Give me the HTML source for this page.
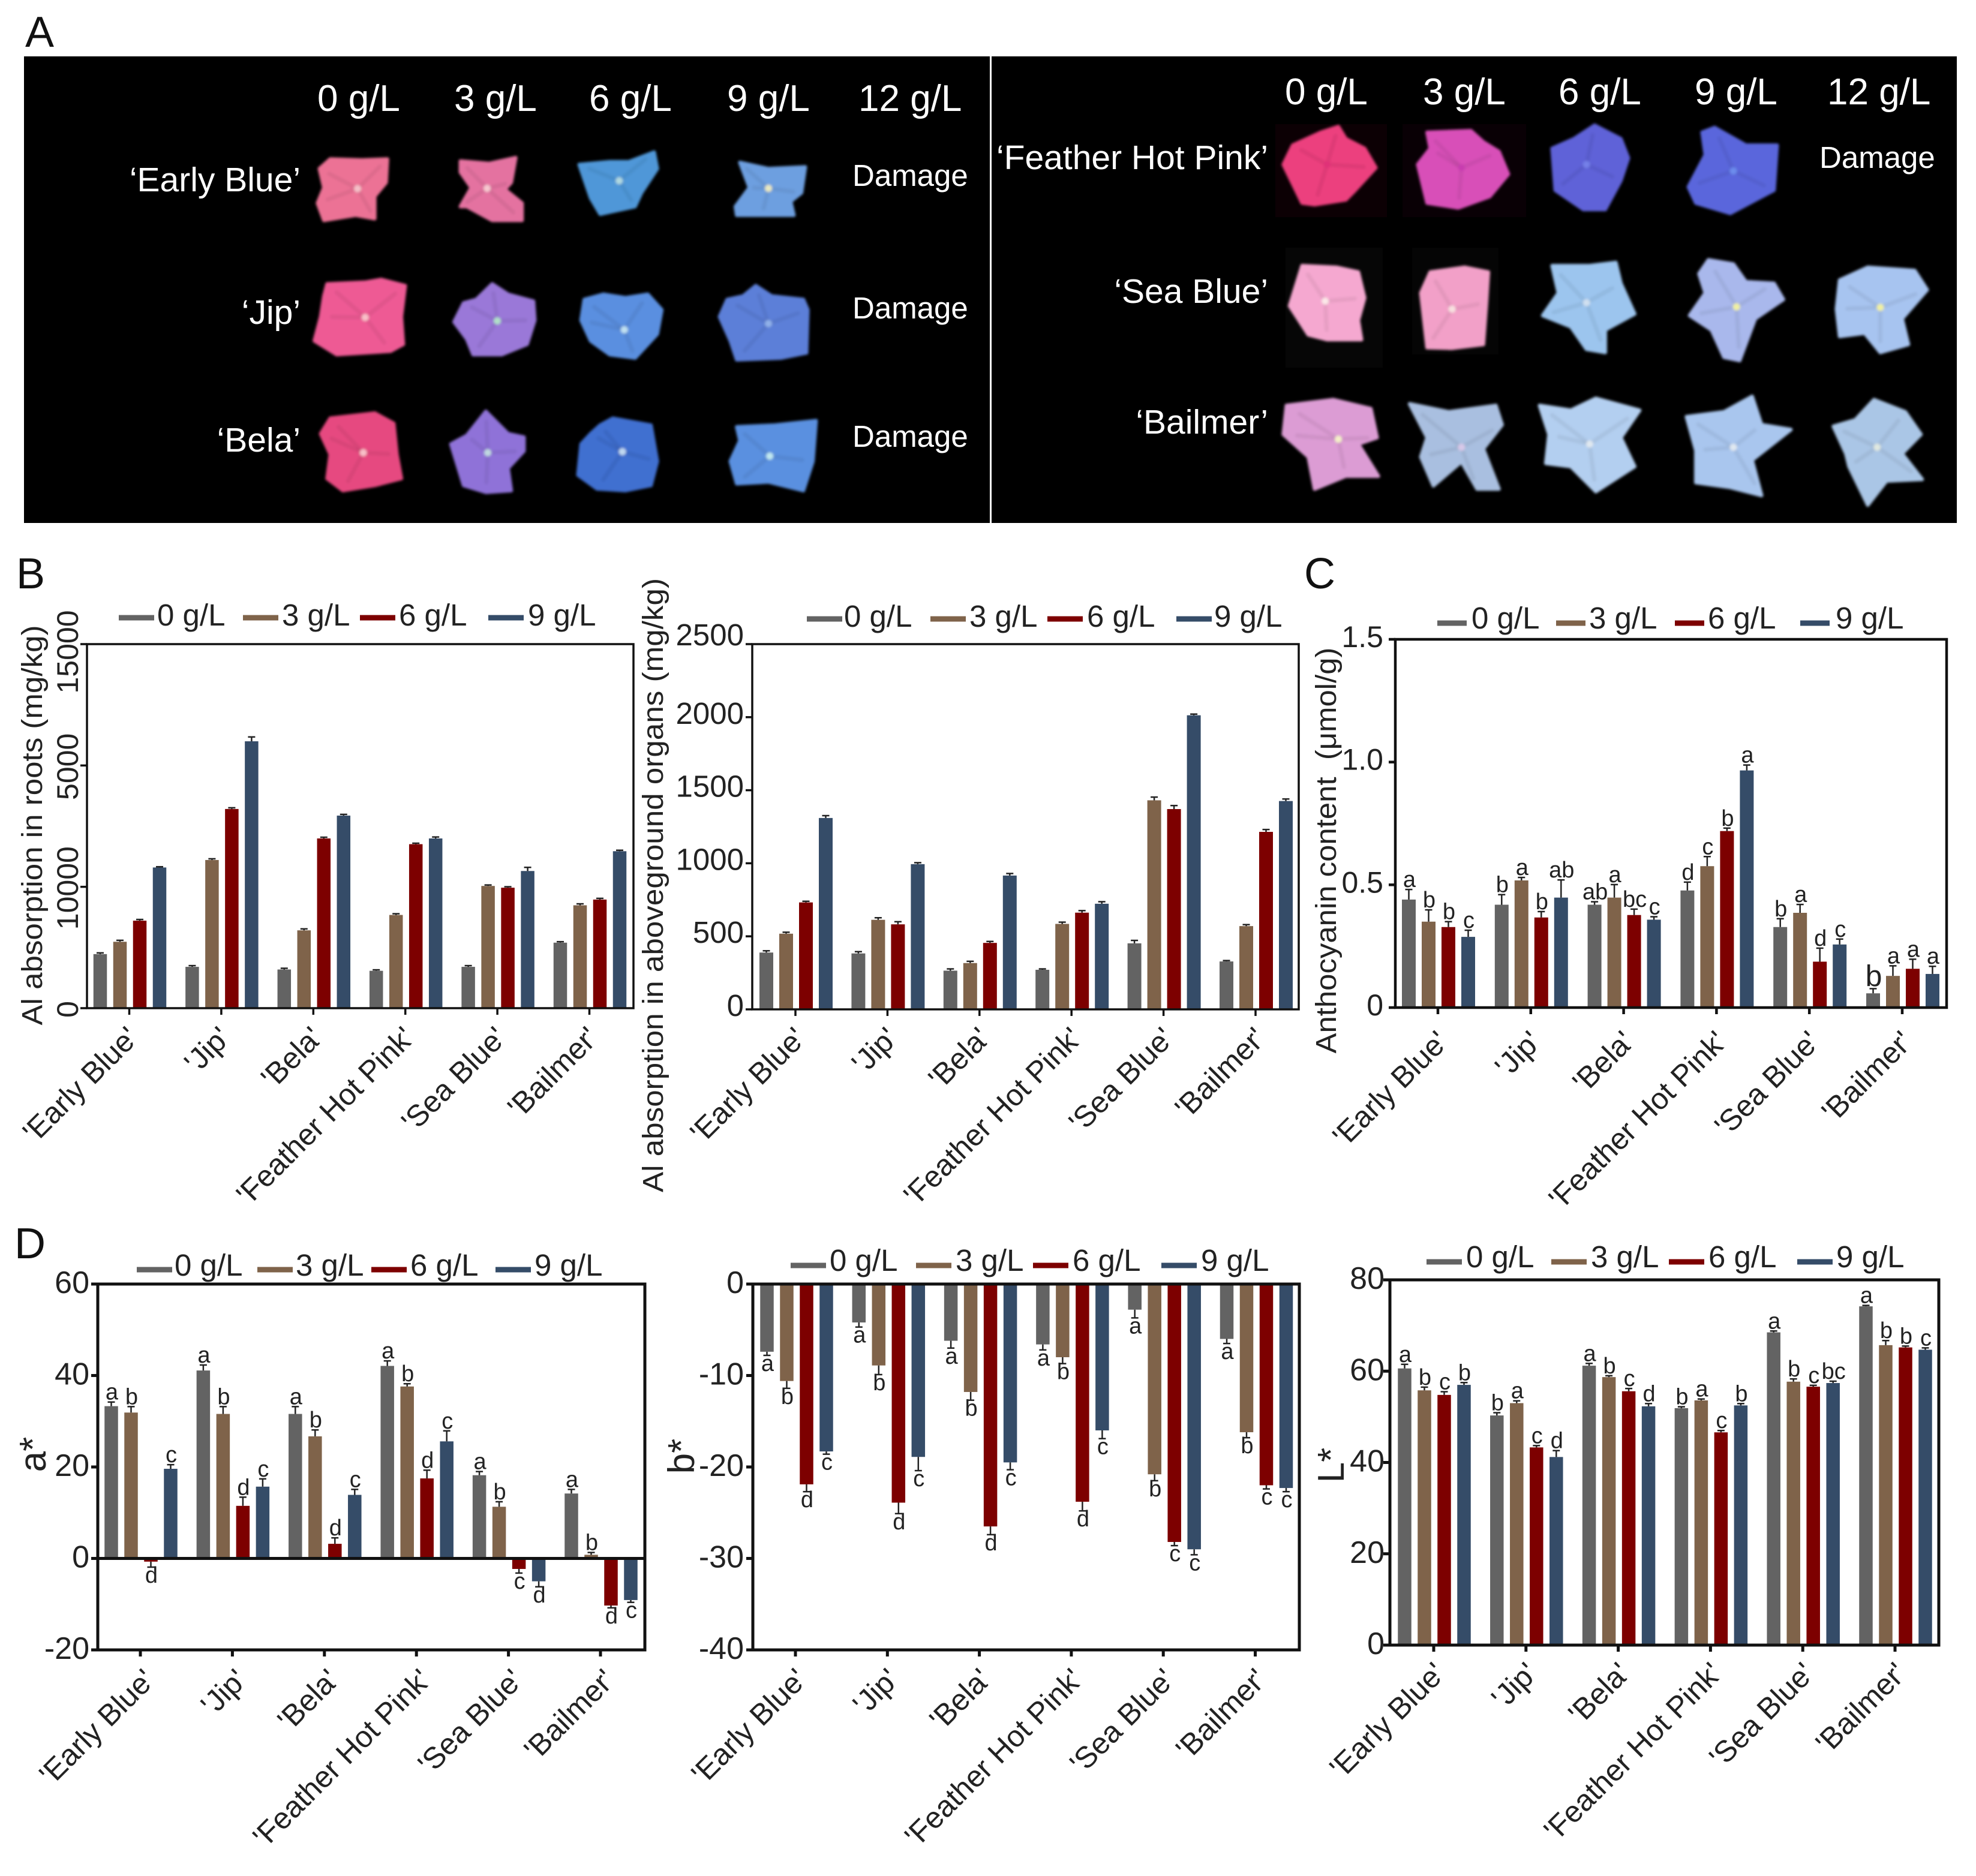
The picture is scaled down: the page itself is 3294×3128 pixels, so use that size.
<!DOCTYPE html>
<html lang="en">
<head>
<meta charset="utf-8">
<title>Hydrangea aluminium response figure</title>
<style>
html,body{margin:0;padding:0;background:#fff;}
svg{display:block;font-family:"Liberation Sans",sans-serif;}
</style>
</head>
<body>
<svg id="figure" xmlns="http://www.w3.org/2000/svg" width="3294" height="3128" viewBox="0 0 3294 3128">
  <defs>
    <filter id="soft" x="-10%" y="-10%" width="120%" height="120%"><feGaussianBlur stdDeviation="2"/></filter>
  </defs>
  <rect x="0" y="0" width="3294" height="3128" fill="#fff"/>
  <text x="42" y="78" font-size="72" fill="#111">A</text>
  <text x="27" y="981" font-size="72" fill="#111">B</text>
  <text x="2174" y="981" font-size="72" fill="#111">C</text>
  <text x="24" y="2098" font-size="72" fill="#111">D</text>

  <g>
    <rect x="40" y="94" width="1610" height="778" fill="#000"/>
    <rect x="1653" y="94" width="1609" height="778" fill="#000"/>
    <rect x="2126" y="207" width="186" height="155" fill="#0c0004"/>
    <rect x="2338" y="207" width="206" height="155" fill="#090005"/>
    <rect x="2143" y="413" width="162" height="200" fill="#060606"/>
    <rect x="2354" y="413" width="144" height="178" fill="#050505"/>
    <g id="flowers" filter="url(#soft)"></g>
    <g font-size="62" fill="#fff">
      <text x="529" y="185">0 g/L</text>
      <text x="757" y="185">3 g/L</text>
      <text x="982" y="185">6 g/L</text>
      <text x="1212" y="185">9 g/L</text>
      <text x="1431" y="185">12 g/L</text>
    </g>
    <g font-size="62" fill="#fff">
      <text x="2142" y="174">0 g/L</text>
      <text x="2372" y="174">3 g/L</text>
      <text x="2598" y="174">6 g/L</text>
      <text x="2825" y="174">9 g/L</text>
      <text x="3046" y="174">12 g/L</text>
    </g>
    <g font-size="57" fill="#fff" text-anchor="end">
      <text x="501" y="319">‘Early Blue’</text>
      <text x="501" y="540">‘Jip’</text>
      <text x="501" y="753">‘Bela’</text>
      <text x="2114" y="282">‘Feather Hot Pink’</text>
      <text x="2114" y="505">‘Sea Blue’</text>
      <text x="2114" y="723">‘Bailmer’</text>
    </g>
    <g font-size="51" fill="#fff">
      <text x="1421" y="310">Damage</text>
      <text x="1421" y="531">Damage</text>
      <text x="1421" y="745">Damage</text>
      <text x="3033" y="280">Damage</text>
    </g>
  </g>
  <g id="charts"></g>
</svg>
<script>
// ---- shared chart data ----
const categories = ["'Early Blue'", "'Jip'", "'Bela'", "'Feather Hot Pink'", "'Sea Blue'", "'Bailmer'"];
const seriesNames = ["0 g/L", "3 g/L", "6 g/L", "9 g/L"];

// ---- Al absorption in roots (mg/kg) ----
const rootsAt0 = [2228, 1703, 1594, 1540, 1703, 2699];
const rootsAt3 = [2736, 6105, 3207, 3841, 5036, 4239];
const rootsAt6 = [3605, 8207, 6993, 6757, 4964, 4475];
const rootsAt9 = [5797, 10996, 7935, 6993, 5652, 6467];
const rootsErr0 = [50, 50, 50, 40, 50, 40];
const rootsErr3 = [60, 50, 60, 50, 40, 60];
const rootsErr6 = [50, 50, 50, 40, 40, 50];
const rootsErr9 = [30, 180, 50, 60, 150, 40];
const rootsTicks = [0, 5000, 10000, 15000];
const rootsTickLabels = ["0", "10000", "5000", "15000"];

// ---- Al absorption in aboveground organs (mg/kg) ----
const aerialAt0 = [389, 383, 265, 271, 452, 328];
const aerialAt3 = [518, 613, 317, 585, 1431, 570];
const aerialAt6 = [732, 582, 455, 662, 1371, 1215];
const aerialAt9 = [1310, 994, 916, 723, 2013, 1426];
const aerialErr0 = [12, 12, 12, 6, 20, 6];
const aerialErr3 = [10, 14, 12, 12, 22, 10];
const aerialErr6 = [8, 18, 10, 14, 24, 16];
const aerialErr9 = [16, 10, 14, 14, 8, 14];
const aerialTicks = [0, 500, 1000, 1500, 2000, 2500];
const aerialTickLabels = ["0", "500", "1000", "1500", "2000", "2500"];

// ---- Anthocyanin content ----
const anthoAt0 = [0.44, 0.419, 0.419, 0.477, 0.328, 0.058];
const anthoAt3 = [0.35, 0.518, 0.448, 0.576, 0.386, 0.129];
const anthoAt6 = [0.328, 0.367, 0.377, 0.719, 0.187, 0.158];
const anthoAt9 = [0.288, 0.448, 0.358, 0.966, 0.257, 0.137];
const anthoErr0 = [0.041, 0.041, 0.012, 0.034, 0.034, 0.019];
const anthoErr3 = [0.048, 0.012, 0.053, 0.039, 0.034, 0.041];
const anthoErr6 = [0.022, 0.024, 0.024, 0.012, 0.055, 0.039];
const anthoErr9 = [0.027, 0.072, 0.012, 0.022, 0.022, 0.031];
const anthoLetters0 = ["a", "b", "ab", "d", "b", "b"];
const anthoLetters3 = ["b", "a", "a", "c", "a", "a"];
const anthoLetters6 = ["b", "b", "bc", "b", "d", "a"];
const anthoLetters9 = ["c", "ab", "c", "a", "c", "a"];
const anthoTicks = [0, 0.5, 1.0, 1.5];
const anthoTickLabels = ["0", "0.5", "1.0", "1.5"];

// ---- a* ----
const aStarAt0 = [33.3, 41.1, 31.6, 42.1, 18.2, 14.2];
const aStarAt3 = [31.9, 31.6, 26.7, 37.6, 11.3, 0.8];
const aStarAt6 = [-0.7, 11.5, 3.2, 17.5, -2.3, -10.3];
const aStarAt9 = [19.6, 15.7, 13.9, 25.6, -5.0, -9.1];
const aStarErr0 = [0.9, 1.2, 1.6, 1.1, 0.8, 0.9];
const aStarErr3 = [1.3, 1.6, 1.4, 0.6, 1.1, 0.5];
const aStarErr6 = [1.2, 1.9, 1.3, 1.8, 0.9, 0.5];
const aStarErr9 = [0.9, 1.7, 1.2, 2.3, 1.2, 0.5];
const aStarLetters0 = ["a", "a", "a", "a", "a", "a"];
const aStarLetters3 = ["b", "b", "b", "b", "b", "b"];
const aStarLetters6 = ["d", "d", "d", "d", "c", "d"];
const aStarLetters9 = ["c", "c", "c", "c", "d", "c"];
const aStarTicks = [-20, 0, 20, 40, 60];
const aStarTickLabels = ["-20", "0", "20", "40", "60"];

// ---- b* ----
const bStarAt0 = [-7.4, -4.2, -6.2, -6.6, -2.8, -6.0];
const bStarAt3 = [-10.6, -8.9, -11.8, -8.0, -20.8, -16.2];
const bStarAt6 = [-21.9, -23.9, -26.5, -23.8, -28.2, -22.0];
const bStarAt9 = [-18.3, -18.9, -19.5, -16.0, -29.0, -22.3];
const bStarErr0 = [0.4, 0.5, 0.8, 0.6, 0.9, 0.5];
const bStarErr3 = [0.8, 1.0, 0.9, 0.7, 0.7, 0.6];
const bStarErr6 = [0.8, 1.2, 0.9, 1.0, 0.4, 0.4];
const bStarErr9 = [0.3, 1.5, 0.8, 0.9, 0.6, 0.4];
const bStarLetters0 = ["a", "a", "a", "a", "a", "a"];
const bStarLetters3 = ["b", "b", "b", "b", "b", "b"];
const bStarLetters6 = ["d", "d", "d", "d", "c", "c"];
const bStarLetters9 = ["c", "c", "c", "c", "c", "c"];
const bStarTicks = [-40, -30, -20, -10, 0];
const bStarTickLabels = ["-40", "-30", "-20", "-10", "0"];

// ---- L* ----
const lStarAt0 = [60.6, 50.3, 61.2, 51.9, 68.5, 74.2];
const lStarAt3 = [55.8, 53.0, 58.7, 53.6, 57.7, 65.7];
const lStarAt6 = [54.8, 43.3, 55.6, 46.6, 56.6, 65.2];
const lStarAt9 = [57.0, 41.2, 52.3, 52.5, 57.4, 64.7];
const lStarErr0 = [0.9, 0.6, 0.5, 0.3, 0.3, 0.2];
const lStarErr3 = [0.7, 0.5, 0.3, 0.3, 0.6, 1.0];
const lStarErr6 = [0.7, 0.4, 0.6, 0.4, 0.3, 0.3];
const lStarErr9 = [0.5, 1.4, 0.6, 0.4, 0.4, 0.4];
const lStarLetters0 = ["a", "b", "a", "b", "a", "a"];
const lStarLetters3 = ["b", "a", "b", "a", "b", "b"];
const lStarLetters6 = ["c", "c", "c", "c", "c", "b"];
const lStarLetters9 = ["b", "d", "d", "b", "bc", "c"];
const lStarTicks = [0, 20, 40, 60, 80];
const lStarTickLabels = ["0", "20", "40", "60", "80"];

const seriesColors = ["#636363", "#7f634a", "#7d0000", "#354c68"];
const NS = "http://www.w3.org/2000/svg";

function make(parent, tag, attrs, text) {
  const el = document.createElementNS(NS, tag);
  for (const k in attrs) el.setAttribute(k, attrs[k]);
  if (text !== undefined) el.textContent = text;
  parent.appendChild(el);
  return el;
}

function drawChart(cfg) {
  const root = document.getElementById("charts");
  const g = make(root, "g", {});
  
  

  const y = v => cfg.bottom - (v - cfg.yMin) / (cfg.yMax - cfg.yMin) * (cfg.bottom - cfg.top);
  const x = i => cfg.xFirst + i * cfg.xStep;
  const zeroY = y(Math.max(cfg.yMin, Math.min(cfg.yMax, 0)));

  // bars, error bars and significance letters
  cfg.series.forEach((values, s) => {
    const sg = make(g, "g", {});
    
    
    values.forEach((v, i) => {
      const cx = x(i) + (s - 1.5) * cfg.barStep + cfg.barShift;
      const top = Math.min(y(v), zeroY);
      const bar = make(sg, "rect", {x: cx - cfg.barW / 2, y: top, width: cfg.barW, height: Math.abs(y(v) - zeroY), fill: seriesColors[s]});
      
      

      const sign = v >= 0 ? 1 : -1;
      const end = y(v + sign * cfg.errors[s][i]);
      const stem = make(sg, "line", {x1: cx, x2: cx, y1: y(v), y2: end, stroke: "#222", "stroke-width": 2.5});
      
      
      const cap = make(sg, "line", {x1: cx - 6, x2: cx + 6, y1: end, y2: end, stroke: "#222", "stroke-width": 2.5});
      
      

      if (cfg.letters) {
        const big = cfg.id === "anthocyanin" && s === 0 && i === 5;
        const ly = v >= 0 ? end - 4 : end + 26;
        const letter = make(sg, "text", {x: cx + 1, y: ly, "font-size": big ? 50 : 38, "text-anchor": "middle", fill: "#222"}, cfg.letters[s][i]);
        
        
      }
    });
  });

  // frame
  const frame = make(g, "rect", {x: cfg.left, y: cfg.top, width: cfg.right - cfg.left, height: cfg.bottom - cfg.top, fill: "none", stroke: "#111", "stroke-width": cfg.frameW});
  
  
  if (cfg.yMin < 0 && cfg.yMax > 0) {
    const zero = make(g, "line", {x1: cfg.left, x2: cfg.right, y1: zeroY, y2: zeroY, stroke: "#111", "stroke-width": cfg.frameW});
    
    
  }

  // y axis
  cfg.ticks.forEach((t, i) => {
    const py = y(t);
    const tick = make(g, "line", {x1: cfg.left - 11, x2: cfg.left, y1: py, y2: py, stroke: "#111", "stroke-width": cfg.frameW});
    
    
    let label;
    if (cfg.rotateYLabels) {
      const oy = i === cfg.ticks.length - 1 ? py + 13 : py + 2;
      label = make(g, "text", {x: cfg.yLabelX, y: oy, "font-size": cfg.yLabelSize, "text-anchor": "middle", fill: "#222", transform: "rotate(-90 " + cfg.yLabelX + " " + oy + ")"}, cfg.tickLabels[i]);
    } else {
      const extra = i === cfg.ticks.length - 1 ? cfg.topLabelDy || 0 : 0;
      label = make(g, "text", {x: cfg.yLabelX, y: py + cfg.yLabelDy + extra, "font-size": cfg.yLabelSize, "text-anchor": "end", fill: "#222"}, cfg.tickLabels[i]);
    }
    
    
  });

  // x axis
  categories.forEach((c, i) => {
    const px = x(i);
    const tick = make(g, "line", {x1: px, x2: px, y1: cfg.bottom, y2: cfg.bottom + 11, stroke: "#111", "stroke-width": cfg.frameW});
    
    
    const lx = px + cfg.catDx;
    const ly = cfg.bottom + cfg.catDy;
    const label = make(g, "text", {x: lx, y: ly, "font-size": 50, "text-anchor": "end", fill: "#222", transform: "rotate(-45 " + lx + " " + ly + ")"}, c);
    
    
  });

  // y axis title
  const t = cfg.title;
  const titleAttrs = {x: t.x, y: t.y, "font-size": t.size, "text-anchor": "middle", fill: "#222", transform: "rotate(-90 " + t.x + " " + t.y + ")"};
  if (t.length) { titleAttrs.textLength = t.length; titleAttrs.lengthAdjust = "spacingAndGlyphs"; }
  const title = make(g, "text", titleAttrs, t.text);
  
  

  // legend
  const lg = make(g, "g", {});
  
  
  seriesNames.forEach((name, s) => {
    const entry = make(lg, "g", {});
    
    
    const sw = make(entry, "rect", {x: cfg.legend.swatch[s], y: cfg.legend.y - 4.5, width: cfg.legend.swatchW, height: 9, fill: seriesColors[s]});
    
    
    const tx = make(entry, "text", {x: cfg.legend.text[s], y: cfg.legend.base, "font-size": 51, fill: "#222"}, name);
    
    
  });
}

drawChart({
  id: "al-roots", left: 145, right: 1056, top: 1074, bottom: 1681, yMin: 0, yMax: 15000,
  xFirst: 215.5, xStep: 153.4, barStep: 33, barW: 22.5, barShift: 1, frameW: 3.5,
  series: [rootsAt0, rootsAt3, rootsAt6, rootsAt9],
  errors: [rootsErr0, rootsErr3, rootsErr6, rootsErr9],
  ticks: rootsTicks, tickLabels: rootsTickLabels,
  rotateYLabels: true, yLabelX: 130, yLabelSize: 50,
  catDx: 18, catDy: 52,
  title: {text: "Al absorption in roots (mg/kg)", x: 70, y: 1376, size: 48, length: 667},
  legend: {swatch: [198, 405, 600, 814], swatchW: 59, text: [262, 470, 665, 880], y: 1030, base: 1043}
});

drawChart({
  id: "al-aboveground", left: 1254, right: 2165, top: 1074, bottom: 1683, yMin: 0, yMax: 2500,
  xFirst: 1326, xStep: 153.4, barStep: 33, barW: 23, barShift: 1, frameW: 3.5,
  series: [aerialAt0, aerialAt3, aerialAt6, aerialAt9],
  errors: [aerialErr0, aerialErr3, aerialErr6, aerialErr9],
  ticks: aerialTicks, tickLabels: aerialTickLabels,
  yLabelX: 1240, yLabelSize: 51, yLabelDy: 11, topLabelDy: -9,
  catDx: 20, catDy: 51,
  title: {text: "Al absorption in aboveground organs (mg/kg)", x: 1105, y: 1476, size: 48, length: 1024},
  legend: {swatch: [1345, 1551, 1746, 1961], swatchW: 59, text: [1407, 1616, 1812, 2024], y: 1032, base: 1045}
});

drawChart({
  id: "anthocyanin", left: 2326, right: 3245, top: 1066, bottom: 1680, yMin: 0, yMax: 1.5,
  xFirst: 2397, xStep: 154.8, barStep: 33, barW: 23, barShift: 1, frameW: 4.5,
  series: [anthoAt0, anthoAt3, anthoAt6, anthoAt9],
  errors: [anthoErr0, anthoErr3, anthoErr6, anthoErr9],
  letters: [anthoLetters0, anthoLetters3, anthoLetters6, anthoLetters9],
  ticks: anthoTicks, tickLabels: anthoTickLabels,
  yLabelX: 2306, yLabelSize: 50, yLabelDy: 13,
  catDx: 20, catDy: 60,
  title: {text: "Anthocyanin content\u00a0\u00a0(\u03bcmol/g)", x: 2227, y: 1418, size: 48, length: 677},
  legend: {swatch: [2396, 2594, 2792, 3001], swatchW: 49, text: [2453, 2649, 2847, 3060], y: 1039, base: 1048}
});

drawChart({
  id: "a-star", left: 163, right: 1075, top: 2141, bottom: 2751, yMin: -20, yMax: 60,
  xFirst: 234, xStep: 153.4, barStep: 33, barW: 22.5, barShift: 1, frameW: 5,
  series: [aStarAt0, aStarAt3, aStarAt6, aStarAt9],
  errors: [aStarErr0, aStarErr3, aStarErr6, aStarErr9],
  letters: [aStarLetters0, aStarLetters3, aStarLetters6, aStarLetters9],
  ticks: aStarTicks, tickLabels: aStarTickLabels,
  yLabelX: 149, yLabelSize: 52, yLabelDy: 15,
  catDx: 27, catDy: 53,
  title: {text: "a*", x: 76, y: 2425, size: 62},
  legend: {swatch: [228, 429, 619, 826], swatchW: 59, text: [291, 493, 684, 891], y: 2117, base: 2127}
});

drawChart({
  id: "b-star", left: 1255, right: 2166, top: 2141, bottom: 2751, yMin: -40, yMax: 0,
  xFirst: 1326, xStep: 153.3, barStep: 33, barW: 22.5, barShift: 2, frameW: 5,
  series: [bStarAt0, bStarAt3, bStarAt6, bStarAt9],
  errors: [bStarErr0, bStarErr3, bStarErr6, bStarErr9],
  letters: [bStarLetters0, bStarLetters3, bStarLetters6, bStarLetters9],
  ticks: bStarTicks, tickLabels: bStarTickLabels,
  yLabelX: 1240, yLabelSize: 52, yLabelDy: 15,
  catDx: 22, catDy: 52,
  title: {text: "b*", x: 1157, y: 2428, size: 62},
  legend: {swatch: [1318, 1527, 1722, 1936], swatchW: 59, text: [1383, 1593, 1788, 2002], y: 2110, base: 2119}
});

drawChart({
  id: "l-star", left: 2317, right: 3232, top: 2134, bottom: 2743, yMin: 0, yMax: 80,
  xFirst: 2390, xStep: 153.8, barStep: 33, barW: 22.5, barShift: 1, frameW: 5,
  series: [lStarAt0, lStarAt3, lStarAt6, lStarAt9],
  errors: [lStarErr0, lStarErr3, lStarErr6, lStarErr9],
  letters: [lStarLetters0, lStarLetters3, lStarLetters6, lStarLetters9],
  ticks: lStarTicks, tickLabels: lStarTickLabels,
  yLabelX: 2308, yLabelSize: 52, yLabelDy: 15,
  catDx: 22, catDy: 50,
  title: {text: "L*", x: 2240, y: 2443, size: 62},
  legend: {swatch: [2378, 2586, 2782, 2996], swatchW: 59, text: [2444, 2652, 2848, 3061], y: 2104, base: 2113}
});

// ---- flower illustrations: silhouettes traced in panel coordinates ----
const leftFlowers = [
  ["#ec7295","#f4c0c8",563,548,[503,490,520,462,570,465,610,462,608,530,590,570,590,635,560,625,510,640,500,590,510,545]],
  ["#e472a0","#f6c8d0",767,547,[725,468,770,475,812,458,805,530,795,550,822,590,822,640,775,640,735,600,725,600,742,545,725,500]],
  ["#4f97d8","#b0d8e0",975,525,[912,478,960,470,990,470,1030,442,1035,490,1010,560,1000,600,945,622,930,575]],
  ["#6d9fe0","#e8e8c0",1210,547,[1165,472,1210,490,1268,485,1262,560,1245,585,1250,625,1200,625,1160,625,1158,600,1180,545]],
  ["#ee5a94","#f8c0c8",575,922,[515,825,575,820,600,812,638,830,632,920,635,1000,615,1020,530,1030,495,990,505,920,510,860]],
  ["#9a78d8","#b0e0c8",783,932,[775,825,800,855,840,875,842,930,830,1000,790,1030,745,1030,735,985,715,935,730,880,750,870]],
  ["#5a8fe0","#c0e0f0",983,958,[920,870,950,855,985,865,1020,855,1042,900,1035,970,1000,1040,960,1030,930,990,915,930]],
  ["#5c7fd8","#90b0e8",1210,940,[1190,830,1215,860,1265,870,1272,900,1270,1025,1230,1040,1160,1045,1150,990,1133,920,1145,870,1170,860]],
  ["#e64a80","#f8c0c8",572,1315,[520,1215,590,1200,620,1230,625,1320,632,1390,590,1410,540,1425,515,1390,520,1320,505,1260]],
  ["#8f72d8","#c0d8e0",768,1315,[765,1195,800,1260,825,1270,825,1310,800,1360,805,1425,765,1430,730,1410,710,1290,735,1265]],
  ["#3f6fd0","#c0d8f0",980,1312,[945,1235,965,1215,1025,1235,1035,1340,1025,1410,985,1425,940,1420,910,1380,915,1290,930,1260]],
  ["#5a90e0","#c0e8f0",1212,1325,[1160,1240,1220,1235,1285,1222,1280,1340,1265,1425,1210,1400,1160,1405,1150,1340,1165,1280]]
];
const rightFlowers = [
  ["#ec3f7e","#e03078",530,400,[548,282,560,320,590,350,608,410,575,480,560,510,510,525,490,520,460,400,475,340,520,300]],
  ["#d850b8","#c83cb0",745,410,[690,300,760,295,780,330,805,360,820,430,790,500,740,535,690,520,675,400,695,350]],
  ["#5f62d8","#7480e8",945,400,[958,278,1000,320,1012,380,1000,450,975,540,940,540,895,480,890,350,925,320]],
  ["#5a66dc","#6c8cec",1180,420,[1150,285,1200,340,1250,340,1245,480,1175,552,1120,520,1108,470,1135,370,1130,300]],
  ["#f5a8d0","#fbe8e8",527,825,[490,715,545,720,580,735,590,815,580,885,585,945,530,945,500,930,470,840]],
  ["#f2a0c8","#f8e0e0",730,850,[695,735,750,720,788,735,785,830,780,960,730,972,690,970,680,800]],
  ["#9cc5ee","#d0e0f0",945,830,[890,715,950,715,992,705,1000,770,1022,865,975,915,975,985,945,975,920,905,875,870,900,800]],
  ["#a9b8ec","#f0f0a0",1185,843,[1140,697,1180,710,1200,765,1245,770,1260,820,1215,880,1190,1010,1165,1000,1145,915,1110,870,1135,800,1125,740]],
  ["#a7c4f0","#f0f0a0",1415,845,[1350,760,1395,720,1470,730,1490,790,1450,880,1460,960,1415,985,1390,925,1350,935,1345,850]],
  ["#dc9cd4","#f4f0c8",548,1255,[465,1150,540,1132,600,1160,610,1250,580,1270,612,1370,560,1370,510,1410,500,1310,460,1240]],
  ["#a9bfe0","#d8c8e8",745,1280,[662,1145,725,1170,800,1150,810,1210,780,1285,805,1410,770,1410,745,1325,700,1400,680,1310,690,1250]],
  ["#b3cff0","#e0e8f0",950,1270,[870,1150,920,1165,960,1128,1030,1165,1000,1250,1022,1340,960,1418,920,1340,880,1330,885,1240]],
  ["#a9c6ee","#e0e8f0",1180,1280,[1105,1185,1165,1170,1210,1122,1225,1210,1272,1225,1210,1320,1225,1430,1175,1405,1120,1390,1120,1290]],
  ["#aac6e6","#e0e8e0",1410,1280,[1340,1215,1375,1195,1405,1132,1455,1170,1480,1240,1450,1300,1482,1380,1425,1385,1395,1460,1365,1340,1360,1300]]
];

const flowerLayer = document.getElementById("flowers");

function drawFlower(f, ox, oy, sx, sy) {
  const fg = make(flowerLayer, "g", {});
  
  
  const pts = [];
  for (let i = 0; i < f[4].length; i += 2) pts.push([ox + f[4][i] * sx, oy + f[4][i + 1] * sy]);
  const cx = ox + f[2] * sx, cy = oy + f[3] * sy;
  const body = make(fg, "polygon", {points: pts.map(p => p.join(",")).join(" "), fill: f[0], stroke: f[0], "stroke-width": 6, "stroke-linejoin": "round"});
  
  
  // faint petal creases radiating from the centre toward every third vertex
  pts.forEach((p, i) => {
    if (i % 3 !== 0) return;
    const crease = make(fg, "line", {x1: cx, y1: cy, x2: cx + (p[0] - cx) * .75, y2: cy + (p[1] - cy) * .75, stroke: "#000", "stroke-opacity": .06, "stroke-width": 7, "stroke-linecap": "round"});
    
    
  });
  const dot = make(fg, "circle", {cx: cx, cy: cy, r: 6, fill: f[1]});
  
  
}

leftFlowers.forEach(f => drawFlower(f, 0, 0, 1.0587, 0.574));
rightFlowers.forEach(f => drawFlower(f, 1660, 60, 1.042, 0.5357));
</script>
</body>
</html>
